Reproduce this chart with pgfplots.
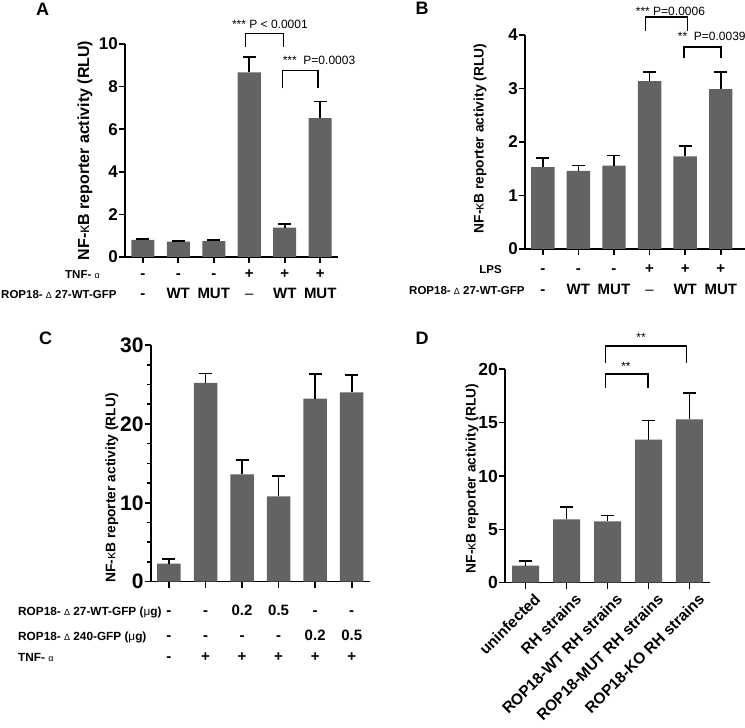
\documentclass[border=0pt]{standalone}
\usepackage{fontspec}
\setmainfont{Liberation Sans}
\usepackage{pgfplots}
\pgfplotsset{compat=1.18}
\definecolor{bargray}{RGB}{99,99,99}
\newcommand\entryfont{\bfseries\fontsize{15}{15}\selectfont}
\newcommand\rowfont{\bfseries\fontsize{11.5}{11.5}\selectfont}
\newcommand\rowfontC{\bfseries\fontsize{11.8}{11.8}\selectfont}
\newcommand\pfont{\mdseries\fontsize{12}{12}\selectfont}
\newcommand\smallgreek[1]{{\mdseries\fontsize{9}{9}\selectfont #1}}
\newcommand\nfkb{NF-{\mdseries κ}B reporter activity (RLU)}

\pgfplotsset{
  prism/.style={
    scale only axis,
    axis x line=bottom, axis y line=left,
    axis line style={-, line width=1.6pt, black},
    ymin=0, xmin=-0.5,
    tick align=outside,
    major tick length=6pt,
    minor tick length=4pt,
    tick style={line width=1.6pt, black},
    clip=false,
    /pgf/number format/assume math mode=true,
    yticklabel style={inner sep=1pt},
    ylabel={\nfkb},
    ylabel style={anchor=center},
  },
  prismbar/.style={
    fill=bargray, draw=none,
    error bars/.cd, y dir=plus, y explicit,
    error bar style={line width=1.6pt, black},
    error mark options={rotate=90, mark size=6.5pt, line width=1.6pt, black},
  },
}

\begin{document}
\begin{tikzpicture}
\useasboundingbox (0,0) rectangle (745pt,728pt);

% ---------------- Panel A ----------------
\begin{axis}[prism,
  at={(125pt,471pt)}, anchor=south west,
  width=213pt, height=213pt,
  xmax=5.5, ymax=10, ytick={0,2,4,6,8,10},
  xtick={0,1,2,3,4,5}, xticklabels={,,,,,,},
  yticklabel style={font=\bfseries\fontsize{17}{17}\selectfont},
  ylabel style={font=\bfseries\fontsize{16}{16}\selectfont, at={(axis description cs:-0.188,0.5)}},
  ybar, bar width=23pt]
\addplot[prismbar] table[x=x, y=y, y error=e] {
x y e
0 0.80 0.05
1 0.72 0.04
2 0.75 0.06
3 8.67 0.73
4 1.38 0.18
5 6.52 0.78
};
\node[anchor=base, font=\entryfont, yshift=-22pt] at (axis cs:0,0) {-};
\node[anchor=base, font=\entryfont, yshift=-22pt] at (axis cs:1,0) {-};
\node[anchor=base, font=\entryfont, yshift=-22pt] at (axis cs:2,0) {-};
\node[anchor=base, font=\entryfont, yshift=-22pt] at (axis cs:3,0) {+};
\node[anchor=base, font=\entryfont, yshift=-22pt] at (axis cs:4,0) {+};
\node[anchor=base, font=\entryfont, yshift=-22pt] at (axis cs:5,0) {+};
\node[anchor=base, font=\entryfont, yshift=-42pt] at (axis cs:0,0) {-};
\node[anchor=base, font=\entryfont, yshift=-42pt] at (axis cs:1,0) {WT};
\node[anchor=base, font=\entryfont, yshift=-42pt] at (axis cs:2,0) {MUT};
\node[anchor=base, font=\entryfont, yshift=-42pt] at (axis cs:3,0) {{\mdseries –}};
\node[anchor=base, font=\entryfont, yshift=-42pt] at (axis cs:4,0) {WT};
\node[anchor=base, font=\entryfont, yshift=-42pt] at (axis cs:5,0) {MUT};
\draw[line width=1.5pt] (axis cs:2.89,9.86) -- (axis cs:2.89,10.5) -- (axis cs:3.97,10.5) -- (axis cs:3.97,9.86);
\draw[line width=1.5pt] (axis cs:3.94,7.93) -- (axis cs:3.94,8.75) -- (axis cs:4.93,8.75) -- (axis cs:4.93,7.93);
\node[anchor=west, font=\pfont, inner sep=0pt] at (axis cs:2.51,10.92) {*** P < 0.0001};
\node[anchor=west, font=\pfont, inner sep=0pt] at (axis cs:3.94,9.25) {***\ \ P=0.0003};
\end{axis}
\node[anchor=base east, font=\rowfont, inner sep=0pt] at (100pt,449pt) {TNF- \smallgreek{α}};
\node[anchor=base west, font=\rowfont, inner sep=0pt] at (1pt,429pt) {ROP18- \smallgreek{Δ} 27-WT-GFP};
\node[font=\bfseries\fontsize{18}{18}\selectfont] at (42.5pt,718.8pt) {A};

% ---------------- Panel B ----------------
\begin{axis}[prism,
  at={(525pt,479pt)}, anchor=south west,
  width=220.7pt, height=214pt,
  xmax=5.7, ymax=4, ytick={0,1,2,3,4},
  xtick={0,1,2,3,4,5}, xticklabels={,,,,,,},
  yticklabel style={font=\bfseries\fontsize{17}{17}\selectfont},
  ylabel style={font=\bfseries\fontsize{13.8}{13.8}\selectfont, at={(axis description cs:-0.204,0.516)}},
  ybar, bar width=23.4pt]
\addplot[prismbar] table[x=x, y=y, y error=e] {
x y e
0 1.53 0.17
1 1.46 0.10
2 1.56 0.19
3 3.14 0.17
4 1.73 0.19
5 2.99 0.32
};
\node[anchor=base, font=\entryfont, yshift=-25pt] at (axis cs:0,0) {-};
\node[anchor=base, font=\entryfont, yshift=-25pt] at (axis cs:1,0) {-};
\node[anchor=base, font=\entryfont, yshift=-25pt] at (axis cs:2,0) {-};
\node[anchor=base, font=\entryfont, yshift=-25pt] at (axis cs:3,0) {+};
\node[anchor=base, font=\entryfont, yshift=-25pt] at (axis cs:4,0) {+};
\node[anchor=base, font=\entryfont, yshift=-25pt] at (axis cs:5,0) {+};
\node[anchor=base, font=\entryfont, yshift=-46pt] at (axis cs:0,0) {-};
\node[anchor=base, font=\entryfont, yshift=-46pt] at (axis cs:1,0) {WT};
\node[anchor=base, font=\entryfont, yshift=-46pt] at (axis cs:2,0) {MUT};
\node[anchor=base, font=\entryfont, yshift=-46pt] at (axis cs:3,0) {{\mdseries –}};
\node[anchor=base, font=\entryfont, yshift=-46pt] at (axis cs:4,0) {WT};
\node[anchor=base, font=\entryfont, yshift=-46pt] at (axis cs:5,0) {MUT};
\draw[line width=1.5pt] (axis cs:2.89,4.08) -- (axis cs:2.89,4.34) -- (axis cs:4.07,4.34) -- (axis cs:4.07,4.08);
\draw[line width=1.5pt] (axis cs:3.96,3.57) -- (axis cs:3.96,3.78) -- (axis cs:5.0,3.78) -- (axis cs:5.0,3.57);
\node[anchor=west, font=\pfont, inner sep=0pt] at (axis cs:2.61,4.44) {*** P=0.0006};
\node[anchor=west, font=\pfont, inner sep=0pt] at (axis cs:3.79,3.97) {**\ \ P=0.0039};
\end{axis}
\node[anchor=base east, font=\rowfont, inner sep=0pt] at (502pt,454pt) {LPS};
\node[anchor=base west, font=\rowfont, inner sep=0pt] at (409pt,433pt) {ROP18- \smallgreek{Δ} 27-WT-GFP};
\node[font=\bfseries\fontsize{18}{18}\selectfont] at (422pt,719.7pt) {B};

% ---------------- Panel C ----------------
\begin{axis}[prism,
  at={(150.7pt,146.3pt)}, anchor=south west,
  width=219.3pt, height=236.7pt,
  xmax=5.5, ymax=30, ytick={0,10,20,30}, minor y tick num=3,
  xtick={0,1,2,3,4,5}, xticklabels={,,,,,,},
  yticklabel style={font=\bfseries\fontsize{21}{21}\selectfont},
  ylabel style={font=\bfseries\fontsize{13.8}{13.8}\selectfont, at={(axis description cs:-0.177,0.396)}},
  ybar, bar width=23.5pt]
\addplot[prismbar] table[x=x, y=y, y error=e] {
x y e
0 2.3 0.57
1 25.2 1.2
2 13.6 1.8
3 10.8 2.6
4 23.2 3.1
5 24.0 2.2
};
\node[anchor=base, font=\entryfont, yshift=-34pt] at (axis cs:0,0) {-};
\node[anchor=base, font=\entryfont, yshift=-34pt] at (axis cs:1,0) {-};
\node[anchor=base, font=\entryfont, yshift=-34pt] at (axis cs:2,0) {0.2};
\node[anchor=base, font=\entryfont, yshift=-34pt] at (axis cs:3,0) {0.5};
\node[anchor=base, font=\entryfont, yshift=-34pt] at (axis cs:4,0) {-};
\node[anchor=base, font=\entryfont, yshift=-34pt] at (axis cs:5,0) {-};
\node[anchor=base, font=\entryfont, yshift=-59pt] at (axis cs:0,0) {-};
\node[anchor=base, font=\entryfont, yshift=-59pt] at (axis cs:1,0) {-};
\node[anchor=base, font=\entryfont, yshift=-59pt] at (axis cs:2,0) {-};
\node[anchor=base, font=\entryfont, yshift=-59pt] at (axis cs:3,0) {-};
\node[anchor=base, font=\entryfont, yshift=-59pt] at (axis cs:4,0) {0.2};
\node[anchor=base, font=\entryfont, yshift=-59pt] at (axis cs:5,0) {0.5};
\node[anchor=base, font=\entryfont, yshift=-80pt] at (axis cs:0,0) {-};
\node[anchor=base, font=\entryfont, yshift=-80pt] at (axis cs:1,0) {+};
\node[anchor=base, font=\entryfont, yshift=-80pt] at (axis cs:2,0) {+};
\node[anchor=base, font=\entryfont, yshift=-80pt] at (axis cs:3,0) {+};
\node[anchor=base, font=\entryfont, yshift=-80pt] at (axis cs:4,0) {+};
\node[anchor=base, font=\entryfont, yshift=-80pt] at (axis cs:5,0) {+};
\end{axis}
\node[anchor=base west, font=\rowfontC, inner sep=0pt] at (18pt,112pt) {ROP18- \smallgreek{Δ} 27-WT-GFP ({\mdseries μ}g)};
\node[anchor=base west, font=\rowfontC, inner sep=0pt] at (18pt,87pt) {ROP18- \smallgreek{Δ} 240-GFP ({\mdseries μ}g)};
\node[anchor=base west, font=\rowfontC, inner sep=0pt] at (18pt,66pt) {TNF- \smallgreek{α}};
\node[font=\bfseries\fontsize{18}{18}\selectfont] at (45.5pt,390pt) {C};

% ---------------- Panel D ----------------
\begin{axis}[prism,
  at={(505pt,145.3pt)}, anchor=south west,
  width=205pt, height=213.4pt,
  xmax=4.5, ymax=20, ytick={0,5,10,15,20},
  xtick={0,1,2,3,4},
  xticklabels={uninfected, RH strains, ROP18-WT RH strains, ROP18-MUT RH strains, ROP18-KO RH strains},
  xticklabel style={font=\bfseries\fontsize{15.5}{15.5}\selectfont, rotate=45, anchor=north east, inner sep=1pt, xshift=4pt, yshift=-7pt},
  yticklabel style={font=\bfseries\fontsize{17.5}{17.5}\selectfont},
  ylabel style={font=\bfseries\fontsize{13.8}{13.8}\selectfont, at={(axis description cs:-0.161,0.488)}},
  ybar, bar width=27pt]
\addplot[prismbar] table[x=x, y=y, y error=e] {
x y e
0 1.60 0.46
1 5.94 1.16
2 5.75 0.56
3 13.4 1.8
4 15.3 2.5
};
\draw[line width=1.5pt] (axis cs:1.95,18.24) -- (axis cs:1.95,19.56) -- (axis cs:2.99,19.56) -- (axis cs:2.99,18.24);
\draw[line width=1.5pt] (axis cs:1.95,20.6) -- (axis cs:1.95,22.2) -- (axis cs:3.93,22.2) -- (axis cs:3.93,20.6);
\node[font=\pfont, inner sep=0pt] at (axis cs:2.45,20.24) {**};
\node[font=\pfont, inner sep=0pt] at (axis cs:2.82,23.0) {**};
\end{axis}
\node[font=\bfseries\fontsize{18}{18}\selectfont] at (422pt,390pt) {D};
\end{tikzpicture}
\end{document}
